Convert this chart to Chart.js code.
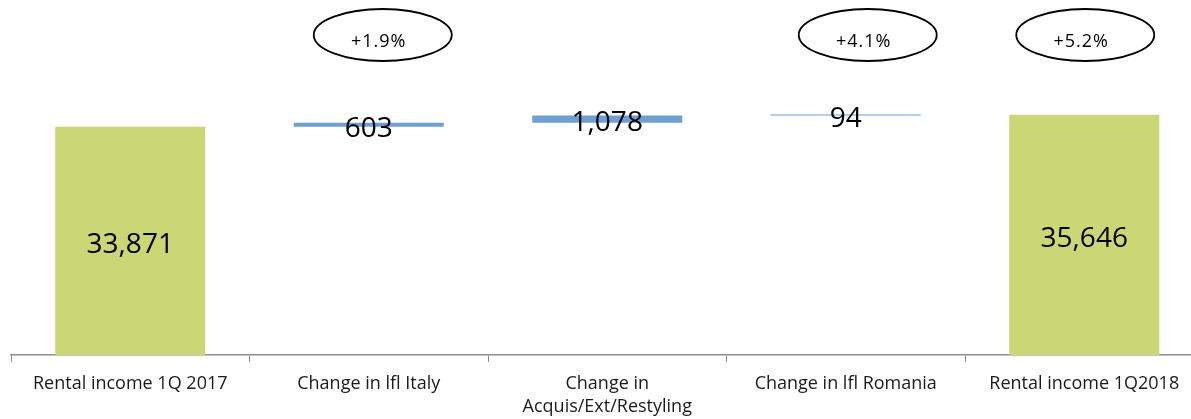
<!DOCTYPE html>
<html>
<head>
<meta charset="utf-8">
<title>Rental income bridge 1Q 2017 – 1Q 2018</title>
<script src="https://cdn.jsdelivr.net/npm/chart.js@4/dist/chart.umd.min.js"></script>
<style>
  html, body { margin: 0; padding: 0; background: #ffffff; overflow: hidden; }
  #wrap { position: absolute; left: 0; top: 0; width: 1215px; height: 419px; }
</style>
</head>
<body>
<div id="wrap"><canvas id="chart"></canvas></div>
<script>
// Bridge steps: opening total, three changes, closing total
const categories = [
  'Rental income 1Q 2017',
  'Change in lfl Italy',
  ['Change in', 'Acquis/Ext/Restyling'],
  'Change in lfl Romania',
  'Rental income 1Q2018'
];
const stepValues = [33871, 603, 1078, 94, 35646];
const stepKinds = ['total', 'change', 'change', 'change', 'total'];
const growthLabels = ['', '+1.9%', '', '+4.1%', '+5.2%'];

const GREEN = '#c9d775';
const BLUE = '#6d9fd1';
const FONT = '"Open Sans", Lato, sans-serif';

// Floating bar ranges: totals start at zero, changes stack on the running sum
const ranges = [];
let running = 0;
stepValues.forEach((v, i) => {
  if (stepKinds[i] === 'total') {
    ranges.push([0, v]);
    running = v;
  } else {
    ranges.push([running, running + v]);
    running += v;
  }
});

const fmt = v => v.toLocaleString('en-US');

// Value labels centred on each bar
const valueLabels = {
  id: 'valueLabels',
  afterDatasetsDraw(chart) {
    const ctx = chart.ctx;
    const meta = chart.getDatasetMeta(0);
    ctx.save();
    ctx.fillStyle = '#000000';
    ctx.textAlign = 'center';
    ctx.textBaseline = 'alphabetic';
    ctx.font = '28px ' + FONT;
    meta.data.forEach((bar, i) => {
      const props = bar.getProps(['x', 'y', 'base'], true);
      const cy = (props.y + props.base) / 2;
      ctx.fillText(fmt(stepValues[i]), props.x, cy + 12);
    });
    ctx.restore();
  }
};

// Growth callouts drawn as ellipses above the bars
const growthCallouts = {
  id: 'growthCallouts',
  afterDraw(chart, args, opts) {
    const ctx = chart.ctx;
    const xs = chart.scales.x;
    ctx.save();
    growthLabels.forEach((txt, i) => {
      if (!txt) return;
      const cx = xs.getPixelForValue(i) + (opts.shift[i] || 0);
      const cy = opts.cy;
      ctx.beginPath();
      ctx.ellipse(cx, cy, opts.rx, opts.ry, 0, 0, Math.PI * 2);
      ctx.fillStyle = '#ffffff';
      ctx.fill();
      ctx.lineWidth = 1.8;
      ctx.strokeStyle = '#000000';
      ctx.stroke();
      ctx.fillStyle = '#000000';
      ctx.font = '18px ' + FONT;
      ctx.letterSpacing = '1px';
      ctx.textAlign = 'center';
      ctx.textBaseline = 'alphabetic';
      ctx.fillText(txt, cx - 4, cy + 12);
    });
    ctx.restore();
  }
};

new Chart(document.getElementById('chart'), {
  type: 'bar',
  data: {
    labels: categories,
    datasets: [{
      data: ranges,
      backgroundColor: stepKinds.map(k => k === 'total' ? GREEN : BLUE),
      borderWidth: 0,
      borderSkipped: false,
      minBarLength: 1,
      barPercentage: 0.629,
      categoryPercentage: 1.0
    }]
  },
  options: {
    responsive: true,
    maintainAspectRatio: false,
    animation: false,
    layout: { padding: { left: 11, right: 11.5, top: 18, bottom: 0 } },
    plugins: {
      legend: { display: false },
      tooltip: { enabled: false },
      growthCallouts: {
        cy: 35,
        rx: 69,
        ry: 26,
        shift: { 1: 14, 3: 22, 4: 1 }
      }
    },
    scales: {
      x: {
        offset: true,
        grid: {
          offset: true,
          drawOnChartArea: false,
          drawTicks: true,
          tickLength: 7,
          color: '#8c8c8c',
          lineWidth: 1
        },
        border: { display: true, color: '#8c8c8c', width: 1.5 },
        ticks: {
          color: '#1a1a1a',
          padding: 10,
          maxRotation: 0,
          autoSkip: false,
          font: { family: FONT, size: 18, lineHeight: 1.3 }
        },
        afterFit(scale) { scale.height = 64; }
      },
      y: {
        display: false,
        min: 0,
        max: 50000
      }
    }
  },
  plugins: [valueLabels, growthCallouts]
});
</script>
</body>
</html>
